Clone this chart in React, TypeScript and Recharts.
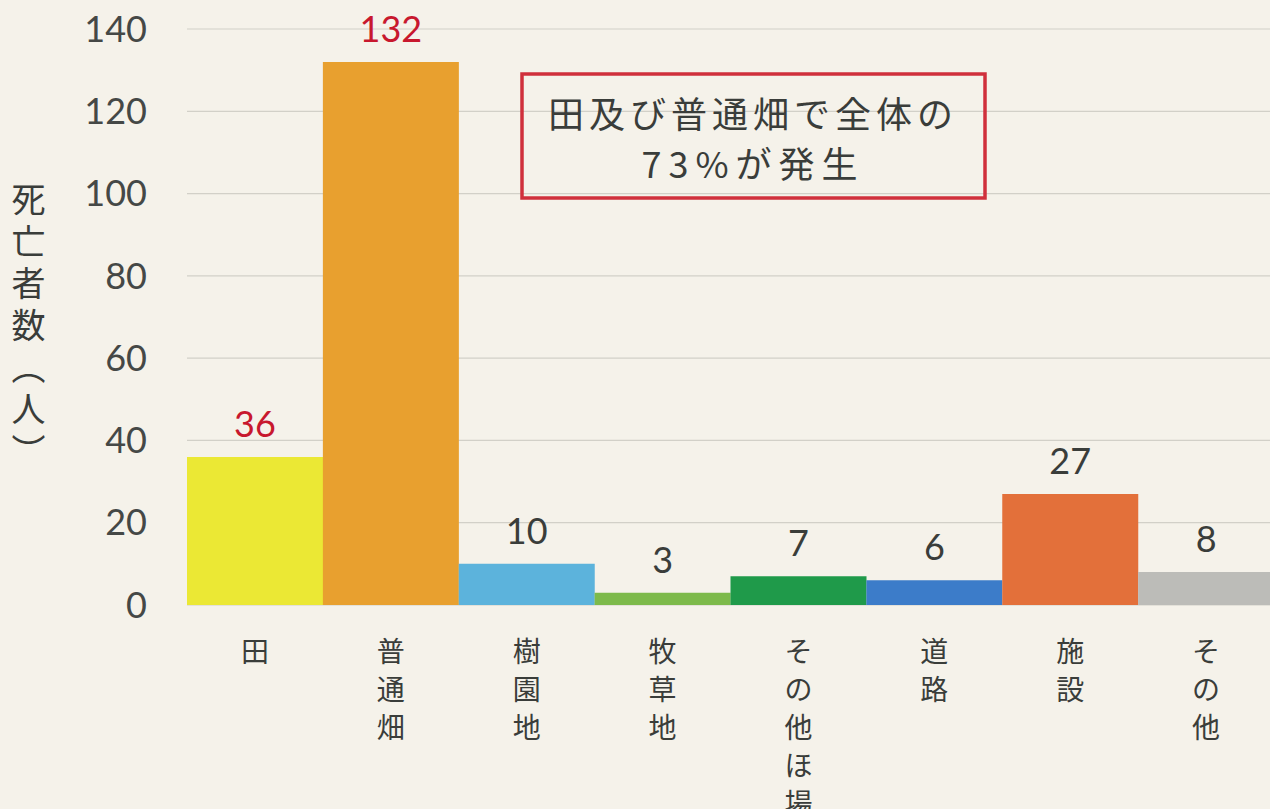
import React from 'react';
import { Bar, BarChart, CartesianGrid, Cell, LabelList, XAxis, YAxis } from 'recharts';

const categories = ['田', '普通畑', '樹園地', '牧草地', 'その他ほ場', '道路', '施設', 'その他'];
const deaths = [36, 132, 10, 3, 7, 6, 27, 8];
const yTicks = [0, 20, 40, 60, 80, 100, 120, 140];
const barColors = ['#ebe834', '#e8a02f', '#5cb3dc', '#7dba4b', '#1f9a4a', '#3c7cc9', '#e3703a', '#bcbcb8'];
const labelColors = ['#c8182e', '#c8182e', '#3a3d3a', '#3a3d3a', '#3a3d3a', '#3a3d3a', '#3a3d3a', '#3a3d3a'];
const yLabel = '死亡者数（人）';

const data = categories.map((name, i) => ({ name, deaths: deaths[i] }));

const BG = '#f5f2ea';
const JP = "'Noto Sans CJK JP', sans-serif";
const NUM = "Lato, 'Noto Sans', sans-serif";

const VerticalTick = (props: any) => {
  const { x, y, payload } = props;
  const chars = String(payload.value).split('');
  return (
    <g>
      {chars.map((c, i) => (
        <text
          key={i}
          x={x}
          y={y + 45 + i * 38}
          textAnchor="middle"
          dominantBaseline="central"
          fontSize={28}
          fontFamily={JP}
          fill="#3a3d3a"
        >
          {c}
        </text>
      ))}
    </g>
  );
};

const ValueLabel = (props: any) => {
  const { x, y, width, value, index } = props;
  return (
    <text
      x={x + width / 2}
      y={y - 20}
      textAnchor="middle"
      fontSize={36}
      fontFamily={NUM}
      fill={labelColors[index] ?? '#3a3d3a'}
    >
      {value}
    </text>
  );
};

const App = () => {
  return (
    <div
      style={{
        position: 'fixed',
        left: 0,
        top: 0,
        width: 1270,
        height: 809,
        overflow: 'hidden',
        background: BG,
      }}
    >
      <BarChart
        width={1280}
        height={809}
        data={data}
        margin={{ top: 29, right: 6, bottom: 4, left: 0 }}
        barCategoryGap={0}
      >
        <CartesianGrid vertical={false} stroke="#d2d0c8" strokeWidth={1.2} />
        <XAxis
          dataKey="name"
          axisLine={false}
          tickLine={false}
          tickSize={0}
          tickMargin={0}
          height={200}
          interval={0}
          tick={<VerticalTick />}
        />
        <YAxis
          width={187}
          domain={[0, 140]}
          ticks={yTicks}
          axisLine={false}
          tickLine={false}
          tickSize={0}
          tickMargin={40}
          tick={{ fontSize: 36, fontFamily: NUM, fill: '#454846' }}
        />
        <Bar dataKey="deaths" isAnimationActive={false}>
          {data.map((d, i) => (
            <Cell key={d.name} fill={barColors[i]} />
          ))}
          <LabelList dataKey="deaths" content={<ValueLabel />} />
        </Bar>
      </BarChart>

      <div
        style={{
          position: 'absolute',
          left: 11,
          top: 182,
          writingMode: 'vertical-rl',
          fontFamily: JP,
          fontSize: 34,
          lineHeight: 1,
          letterSpacing: 8,
          color: '#3a3d3a',
        }}
      >
        {yLabel}
      </div>

      <svg
        width={1270}
        height={809}
        style={{ position: 'absolute', left: 0, top: 0, pointerEvents: 'none' }}
      >
        <rect x={522} y={74} width={463} height={124} fill="none" stroke="#d0303c" strokeWidth={3.5} />
        <text
          x={753}
          y={112}
          textAnchor="middle"
          dominantBaseline="central"
          fontSize={36}
          letterSpacing={5}
          fontFamily={JP}
          fill="#3a3d3a"
        >
          田及び普通畑で全体の
        </text>
        <text
          x={753}
          y={162}
          textAnchor="middle"
          dominantBaseline="central"
          fontSize={36}
          letterSpacing={7}
          fontFamily={JP}
          fill="#3a3d3a"
        >
          73%が発生
        </text>
      </svg>
    </div>
  );
};

export default App;
